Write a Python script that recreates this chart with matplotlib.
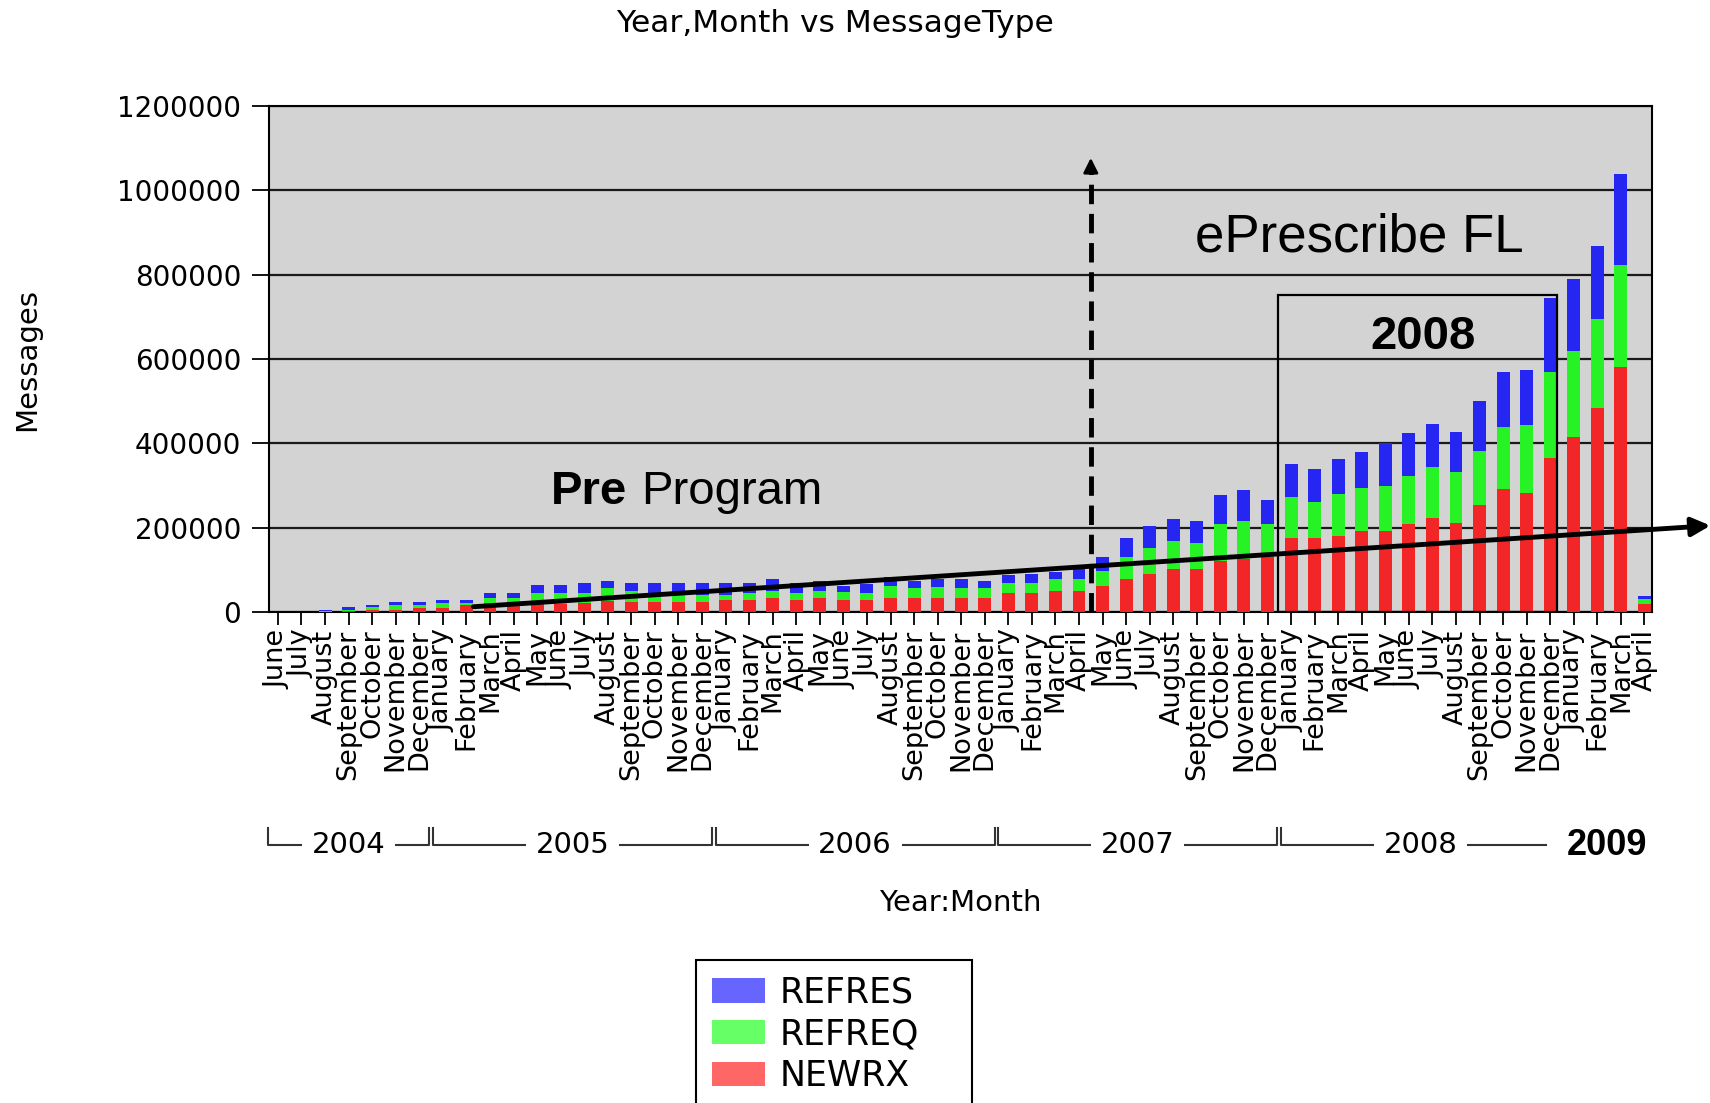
import numpy as np
import matplotlib.pyplot as plt
import matplotlib.transforms as mtransforms
from matplotlib.patches import Patch, Rectangle

# Categories: June 2004 .. April 2009
month_names = ['January', 'February', 'March', 'April', 'May', 'June', 'July',
               'August', 'September', 'October', 'November', 'December']
month_labels = month_names[5:] + month_names * 4 + month_names[:4]
year_names = ['2004', '2005', '2006', '2007', '2008', '2009']
months_per_year = [7, 12, 12, 12, 12, 4]

# Messages per month, thousands
newrx = np.array([0, 0, 0, 2.4, 5, 5, 10, 10, 16.5, 22, 21, 19, 19, 21, 26, 24.5,
                  24.5, 24.5, 24.5, 28, 28, 34, 28, 34, 28, 28, 34, 34, 34, 34,
                  34, 44.5, 44.5, 50, 50, 62, 79.5, 90, 102, 102, 122, 126, 130,
                  176, 176, 181, 193, 193, 208, 224, 212, 253, 291, 282, 365,
                  416, 483, 581, 20]) * 1000
refreq = np.array([0, 0, 2, 2.6, 7, 11.5, 6.5, 11, 5.5, 12, 12, 25, 25, 23, 30,
                   26.5, 21.5, 17.5, 15.5, 12, 18, 17, 16, 17, 20.5, 16.5, 28, 22,
                   26, 22, 22, 23.5, 23.5, 29.5, 29.5, 36, 50.5, 63, 67, 62, 87,
                   89, 79, 97, 85, 98, 102, 107, 114, 119, 120, 129, 147, 162,
                   204, 204, 211, 242, 10]) * 1000
refres = np.array([0, 0, 3, 6, 5, 6.5, 6.5, 7.5, 6.5, 12, 13, 19, 19, 24, 17.5,
                   17, 22, 26, 28, 28, 22, 27, 26, 22.5, 13.5, 21.5, 21, 18, 18,
                   23.5, 18, 19, 22, 14.5, 22.5, 32, 46, 50, 52, 51, 69, 74, 57,
                   79, 79, 85, 85, 100, 102, 102, 95, 118, 131, 131, 175, 169,
                   174, 215, 8]) * 1000

fig = plt.figure(figsize=(17.1, 11.03), dpi=100)
ax = fig.add_axes([0.1573, 0.4451, 0.8088, 0.4588])

x = np.arange(len(month_labels))
w = 0.55
ax.bar(x, newrx, w, color='#f22626', zorder=3)
ax.bar(x, refreq, w, bottom=newrx, color='#26f226', zorder=3)
ax.bar(x, refres, w, bottom=newrx + refreq, color='#2626f2', zorder=3)

ax.set_facecolor('#d3d3d3')
ax.set_xlim(-0.38, 58.32)
ax.set_ylim(0, 1200000)
yt = np.arange(0, 1200001, 200000)
ax.set_yticks(yt)
ax.set_yticklabels([str(v) for v in yt], fontsize=20)
ax.yaxis.grid(True, color='#1a1a1a', lw=1.6)
ax.set_axisbelow(True)
ax.set_xticks(x)
ax.set_xticklabels(month_labels, rotation=90, fontsize=19.5)
ax.tick_params(axis='x', length=9.5, width=1.3, pad=3)
ax.tick_params(axis='y', length=12, width=1.3, pad=8)
for s in ax.spines.values():
    s.set_color('black')
    s.set_linewidth(1.5)

ax.set_xlabel('Year:Month', fontsize=21, va='center')
ax.xaxis.set_label_coords(0.4996, -0.575)
ax.set_ylabel('Messages', fontsize=21, va='center')
ax.yaxis.set_label_coords(-0.175, 0.5)
fig.text(835 / 1710, 1 - 24 / 1103, 'Year,Month vs MessageType', fontsize=22.5,
         ha='center', va='center')

# year brackets under the month labels
trans = mtransforms.blended_transform_factory(ax.transData, ax.transAxes)
yb = -0.4605
ytop = yb + 17 / 506
start = -0.5
for k, (name, n) in enumerate(zip(year_names[:-1], months_per_year[:-1])):
    a, b = start + 0.08, start + n - 0.08
    last = k == len(year_names) - 2
    if last:
        b = 53.8
        ax.plot([a, a, b], [ytop, yb, yb], color='#333333', lw=1.5,
                transform=trans, clip_on=False)
    else:
        ax.plot([a, a, b, b], [ytop, yb, yb, ytop], color='#333333', lw=1.5,
                transform=trans, clip_on=False)
    ax.text(start + n / 2, yb, name, transform=trans, ha='center', va='center',
            fontsize=21, bbox=dict(facecolor='white', edgecolor='none', pad=7))
    start += n
ax.text(56.4, yb, year_names[-1], transform=trans, ha='center', va='center',
        fontsize=26, fontweight='bold', family='Liberation Sans')

# annotations
ann = dict(family='Liberation Sans', zorder=7)
ax.text(11.59, 256e3, 'Pre', fontsize=34, fontweight='bold', ha='left',
        va='baseline', **ann)
ax.text(15.41, 256e3, 'Program', fontsize=34, ha='left', va='baseline', **ann)
ax.text(45.9, 856e3, 'ePrescribe FL', fontsize=38, ha='center', va='baseline', **ann)
ax.text(48.6, 624e3, '2008', fontsize=34, fontweight='bold', ha='center',
        va='baseline', **ann)
ax.add_patch(Rectangle((42.45, 0), 54.3 - 42.45, 752e3, fill=False,
                       edgecolor='black', lw=1.6, zorder=5))

ax.plot([34.5, 34.5], [0, 1.045e6], color='black', lw=3.5, dashes=(4, 2), zorder=6)
ax.annotate('', xy=(34.5, 1.077e6), xytext=(34.5, 1.04e6),
            arrowprops=dict(arrowstyle='-|>', color='black', lw=2,
                            mutation_scale=22, shrinkA=0, shrinkB=0), zorder=6)

ax.annotate('', xy=(60.8, 205e3), xytext=(8.3, 12.6e3), annotation_clip=False,
            arrowprops=dict(arrowstyle='-|>', color='black', lw=3.5,
                            mutation_scale=28, shrinkA=0, shrinkB=0), zorder=6)

handles = [Patch(facecolor='#6666ff', label='REFRES'),
           Patch(facecolor='#66ff66', label='REFREQ'),
           Patch(facecolor='#ff6666', label='NEWRX')]
leg = fig.legend(handles=handles, loc='upper left', mode='expand',
                 bbox_to_anchor=(696 / 1710, 1 - 1103 / 1103, 276 / 1710,
                                 (1103 - 960) / 1103),
                 fontsize=25, frameon=True, fancybox=False, edgecolor='black',
                 framealpha=1, borderaxespad=0, handlelength=1.53,
                 handleheight=0.69, labelspacing=0.22, borderpad=0.45,
                 handletextpad=0.43)
leg.get_frame().set_linewidth(1.5)

fig.savefig('out.png', dpi=100)
